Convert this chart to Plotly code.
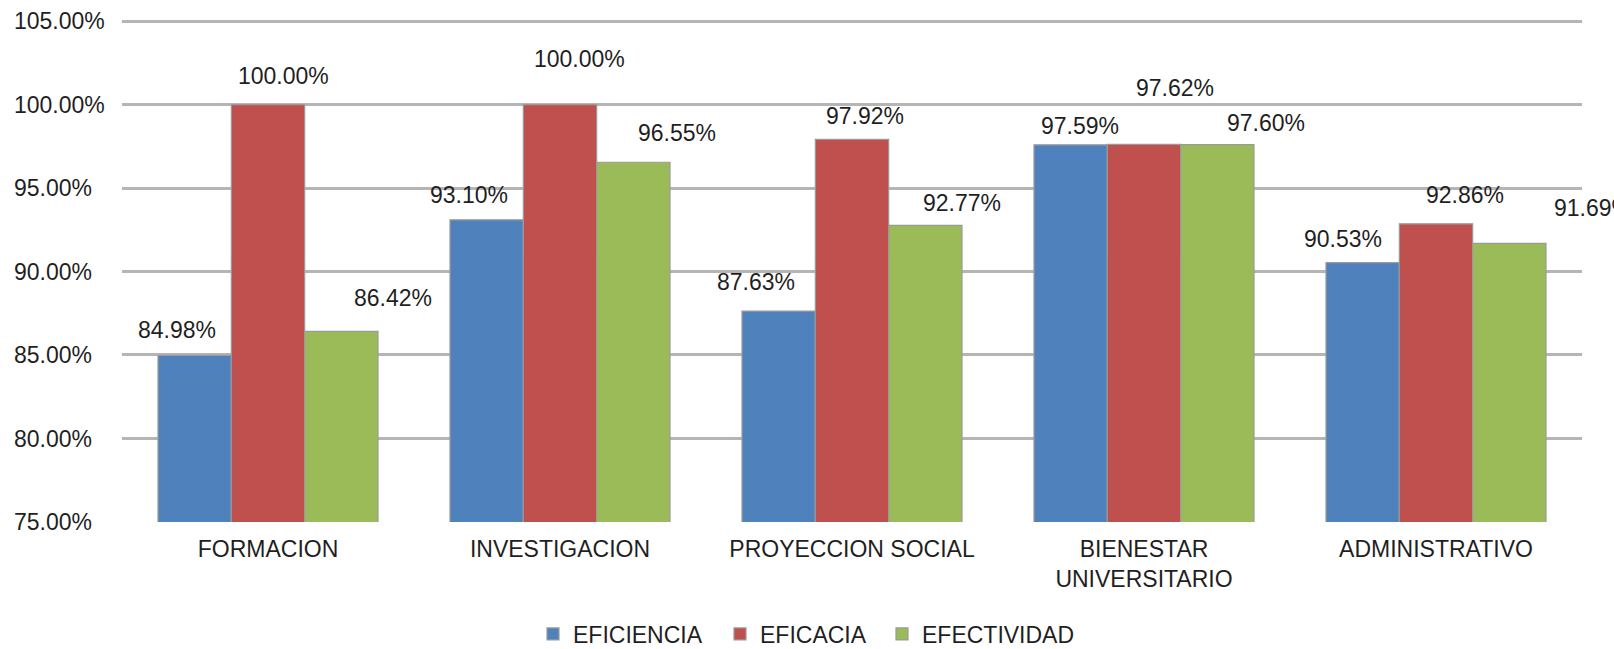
import plotly.graph_objects as go

categories = ["FORMACION", "INVESTIGACION", "PROYECCION SOCIAL", "BIENESTAR<br>UNIVERSITARIO", "ADMINISTRATIVO"]
series_names = ["EFICIENCIA", "EFICACIA", "EFECTIVIDAD"]
eficiencia = [84.98, 93.10, 87.63, 97.59, 90.53]
eficacia = [100.00, 100.00, 97.92, 97.62, 92.86]
efectividad = [86.42, 96.55, 92.77, 97.60, 91.69]
y_ticks = [75, 80, 85, 90, 95, 100, 105]

series_values = [eficiencia, eficacia, efectividad]
colors = ["#4f81bd", "#c0504d", "#9bbb59"]

# label offsets (px) relative to bar top centre: [category][series]
lbl_dx = [[-17.5, 15.5, 52], [-17.5, 19, 43.5], [-23, 13, 37], [9, 31, 49], [-20, 28.5, 84]]
lbl_dy = [[25, 29, 33], [25, 46, 29], [29, 23.5, 22], [19, 56.6, 22], [24, 29, 35]]
# legend entries: left x (px) of each entry
legend_x_px = [533, 720, 882]
legend_y_px = 634

W, H = 1614, 649
plot_left, plot_right = 122, 1582
top_px, bot_px = 21.5, 530
ml, mr, mt, mb = 10, W - plot_right, 2, 100
plot_w = W - ml - mr
plot_h = H - mt - mb
ymin, ymax = 75, 105
upp = (ymax - ymin) / (bot_px - top_px)
top_pad_px = 2
d0 = (H - mb - bot_px) / plot_h
d1 = 1 - (top_px - top_pad_px - mt) / plot_h
bargap = 0.2466
cat_px = (plot_right - plot_left) / len(categories)
bar_px = cat_px * (1 - bargap) / 3

FONT = "Liberation Sans, Arial, sans-serif"
TXT = "#1f1f1f"
FS = 23

fig = go.Figure()
legend_ids = ["legend", "legend2", "legend3"]
for name, vals, col, lg in zip(series_names, series_values, colors, legend_ids):
    fig.add_trace(go.Bar(
        x=categories, y=vals, name=name, legend=lg,
        marker=dict(color=col, line=dict(color="#9a9a9a", width=1.2)),
    ))

# invisible trace carrying the left-aligned tick-label axis
fig.add_trace(go.Scatter(x=categories, y=eficiencia, yaxis="y2", mode="markers",
                         marker=dict(opacity=0), hoverinfo="skip", showlegend=False))

annotations = []
for j, vals in enumerate(series_values):
    for i, v in enumerate(vals):
        annotations.append(dict(
            x=categories[i], y=v, xref="x", yref="y",
            text=f"{v:.2f}%", showarrow=False,
            xanchor="center", yanchor="middle",
            xshift=(j - 1) * bar_px + lbl_dx[i][j], yshift=lbl_dy[i][j],
            font=dict(family=FONT, size=FS, color=TXT),
        ))

legends = {}
for lg, lx in zip(legend_ids, legend_x_px):
    legends[lg] = dict(
        orientation="h", xref="container", yref="container",
        x=lx / W, xanchor="left", y=1 - legend_y_px / H, yanchor="middle",
        font=dict(family=FONT, size=FS, color=TXT),
        bgcolor="rgba(0,0,0,0)", borderwidth=0,
    )

fig.update_layout(
    width=W, height=H,
    margin=dict(l=ml, r=mr, t=mt, b=mb, pad=0),
    paper_bgcolor="white", plot_bgcolor="rgba(0,0,0,0)",
    barmode="group", bargap=bargap, bargroupgap=0,
    font=dict(family=FONT, size=FS, color=TXT),
    xaxis=dict(
        domain=[(plot_left - ml) / plot_w, 1],
        type="category", range=[-0.5, len(categories) - 0.5], autorange=False,
        showline=False, ticks="", showgrid=False,
        tickfont=dict(family=FONT, size=FS, color=TXT),
        ticklabelstandoff=11,
    ),
    yaxis=dict(
        domain=[d0, d1], range=[ymin, ymax + top_pad_px * upp], autorange=False,
        tickvals=y_ticks[1:], showticklabels=False,
        showgrid=True, gridcolor="#b5b5b5", gridwidth=3,
        zeroline=False, showline=False, ticks="",
    ),
    yaxis2=dict(
        anchor="free", position=0, side="left",
        domain=[0, 1],
        range=[ymin - (H - mb - bot_px) * upp, ymax + (top_px - mt) * upp], autorange=False,
        tickvals=y_ticks, ticktext=[f"{t:.2f}%" for t in y_ticks],
        ticklabelposition="inside", showgrid=False, zeroline=False,
        showline=False, ticks="",
        tickfont=dict(family=FONT, size=FS, color=TXT),
    ),
    annotations=annotations,
    showlegend=True,
    **legends,
)

fig.write_html("out.html", config={"displayModeBar": False},
               post_script="document.body.style.margin='0';document.body.style.overflow='hidden';")
